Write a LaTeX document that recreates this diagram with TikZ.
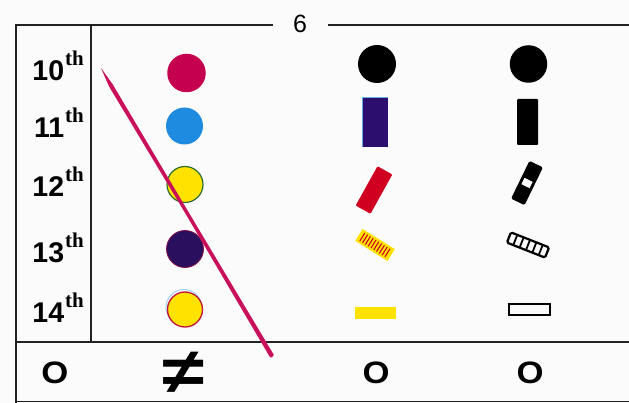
\documentclass[tikz,border=0pt]{standalone}
\usepackage{fontspec}
\setmainfont{Liberation Sans}
\newfontfamily\thserif{Liberation Serif}
\definecolor{framec}{HTML}{222222}
\definecolor{magc}{HTML}{C4004F}
\definecolor{bluec}{HTML}{1E8BE0}
\definecolor{yelc}{HTML}{FFE200}
\definecolor{greenc}{HTML}{2E6E2E}
\definecolor{purpc}{HTML}{2A0F5E}
\definecolor{indigoc}{HTML}{2C0E6E}
\definecolor{crimc}{HTML}{C0143C}
\definecolor{redc}{HTML}{D00020}
\definecolor{slashc}{HTML}{C9105A}
\definecolor{paper}{HTML}{FBFBFB}
\begin{document}
\begin{tikzpicture}[x=1pt,y=-1pt,
  frameline/.style={draw=framec,line width=1.3pt},
  dot/.style={circle,inner sep=0pt,minimum size=#1},
  rowlab/.style={anchor=base east,inner sep=0pt,font=\bfseries\fontsize{28.5}{28.5}\selectfont},
  bigo/.style={inner sep=0pt,font=\bfseries\fontsize{31}{31}\selectfont}]
\fill[paper] (0,0) rectangle (629,403);
\useasboundingbox (0,0) rectangle (629,403);
% frame
\draw[frameline] (16,403) -- (16,25) -- (273,25);
\draw[frameline] (328,25) -- (629,25);
\draw[frameline] (91,25) -- (91,342);
\draw[frameline] (16,342) -- (629,342);
\draw[frameline] (16,401.5) -- (629,401.5);
\node[inner sep=0pt,font=\fontsize{25}{25}\selectfont] (pg) at (300,24) {6};
% row labels
\newcommand{\thlab}[1]{#1\hspace{1pt}\raisebox{15pt}{\thserif\bfseries\fontsize{21}{21}\selectfont th}}
\node[rowlab] (l10) at (84,81) {\thlab{10}};
\node[rowlab] (l11) at (84,138) {\thlab{11}};
\node[rowlab] (l12) at (84,197) {\thlab{12}};
\node[rowlab] (l13) at (84,263) {\thlab{13}};
\node[rowlab] (l14) at (84,323) {\thlab{14}};
% column 2 circles
\node[dot=38.5pt,fill=magc] (c10) at (186.5,73) {};
\node[dot=37pt,fill=bluec] (c11) at (184.5,126) {};
\node[dot=36pt,fill=yelc,draw=greenc,line width=1.2pt] (c12) at (185,184.5) {};
\node[dot=37pt,fill=purpc,draw=crimc!60!purpc,line width=0.8pt] (c13) at (185,249) {};
\node[dot=36pt,draw=bluec!40,line width=1pt] (c14b) at (184,307.5) {};
\node[dot=35pt,fill=yelc,draw=crimc,line width=1.3pt] (c14) at (185,309.5) {};
% slash
\fill[slashc] (101,68) -- (112.6,84.2) -- (188.0,211.2) -- (273.8,354.8) -- (272.0,357.3) -- (270.0,357.2) -- (185.0,212.8) -- (109.0,86.4) -- cycle;
% column 3
\node[dot=38pt,fill=black] (k10) at (377,64) {};
\fill[indigoc] (362,97) rectangle (388,147);
\draw[bluec!70,line width=0.6pt] (362,147) -- (362,97) -- (388,97);
\begin{scope}[shift={(374,190)},rotate=61]
  \fill[redc,rounded corners=1pt] (-22.5,-8.5) rectangle (22.5,8.5);
\end{scope}
\begin{scope}[shift={(375,245)},rotate=-32]
  \fill[yelc] (-19,-7) rectangle (19,7);
  \foreach \k in {0,...,9} {
    \draw[redc,line width=1.1pt] (-15+\k*3.3,-4.8) -- (-15+\k*3.3,4.8);
  }
\end{scope}
\fill[yelc] (355,307) rectangle (396,319);
% column 4
\node[dot=37.5pt,fill=black] (m10) at (528.5,64) {};
\fill[black,rounded corners=1pt] (517,99) rectangle (538,145);
\begin{scope}[shift={(527,183)},rotate=64]
  \fill[black,rounded corners=1.5pt] (-21,-7.5) rectangle (21,7.5);
  \fill[white] (-3.5,-4.5) rectangle (3.5,4.5);
\end{scope}
\begin{scope}[shift={(528,245)},rotate=-21.5]
  \draw[black,line width=2.2pt,rounded corners=1.5pt] (-20.5,-5.5) rectangle (20.5,5.5);
  \foreach \k in {1,...,5} {
    \draw[black,line width=1.8pt] (-20.5+\k*41/6,-5.5) -- (-20.5+\k*41/6,5.5);
  }
\end{scope}
\draw[black,line width=2.3pt] (509.2,304.2) rectangle (549.8,314.8);
% bottom row
\node[bigo] (o1) at (55,373) {\scalebox{1.12}[1]{O}};
\node[inner sep=2pt,font=\bfseries\fontsize{64}{64}\selectfont] (ne) at (184,373) {\scalebox{1.2}[1]{≠}};
\node[bigo] (o3) at (376,373) {\scalebox{1.12}[1]{O}};
\node[bigo] (o4) at (530,373) {\scalebox{1.12}[1]{O}};
\end{tikzpicture}
\end{document}
